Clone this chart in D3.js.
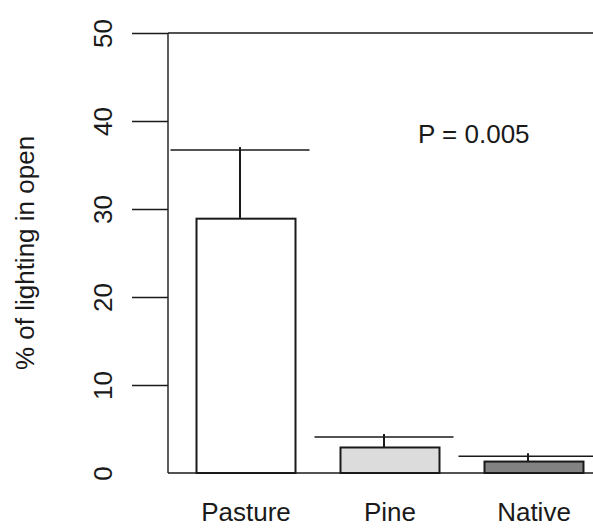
<!DOCTYPE html>
<html>
<head>
<meta charset="utf-8">
<script src="https://cdn.jsdelivr.net/npm/d3@7"></script>
<style>
  html, body { margin: 0; padding: 0; background: #fff; }
  svg { display: block; }
  text { font-family: "Liberation Sans", Arial, sans-serif; fill: #1a1a1a; }
</style>
</head>
<body>
<svg id="chart" width="593" height="528"></svg>
<script>
// Mean light levels by habitat, with the upper end of each error bar
const categories = ["Pasture", "Pine", "Native"];
const means = [28.9, 2.9, 1.3];
const upper = [36.7, 4.1, 1.9];
const fills = ["#ffffff", "#dcdcdc", "#828282"];
const yTicks = [0, 10, 20, 30, 40, 50];
const yTitle = "% of lighting in open";
const pLabel = "P = 0.005";

const W = 593, H = 528;
const svg = d3.select("#chart");
const ink = "#1a1a1a";

const x = d3.scaleBand()
  .domain(categories)
  .range([168, 612])
  .paddingInner(0.3125)
  .paddingOuter(0.198);

const y = d3.scaleLinear().domain([0, 50]).range([473, 33]);

const x0 = x.range()[0];

// left axis: long ticks, rotated labels
const axis = svg.append("g").attr("transform", `translate(${x0},0)`)
  .call(d3.axisLeft(y).tickValues(yTicks).tickSize(36).tickPadding(0).tickFormat(d3.format("d")));
axis.select(".domain").remove();
axis.selectAll(".tick line")
  .attr("stroke", ink).attr("stroke-width", 1.4)
  .attr("display", d => d === 0 ? "none" : null);
axis.selectAll(".tick text").remove();
axis.selectAll(".tick").append("text")
  .attr("transform", "translate(-56,0) rotate(-90)")
  .attr("text-anchor", "middle")
  .attr("font-size", 26)
  .text(d => d);

svg.append("line")
  .attr("x1", x0).attr("x2", x0)
  .attr("y1", y(50)).attr("y2", y(0))
  .attr("stroke", ink).attr("stroke-width", 1.4);

// top rule and baseline
svg.append("line")
  .attr("x1", x0).attr("x2", W)
  .attr("y1", y(50)).attr("y2", y(50))
  .attr("stroke", ink).attr("stroke-width", 1.4);
svg.append("line")
  .attr("x1", x0).attr("x2", W)
  .attr("y1", y(0)).attr("y2", y(0))
  .attr("stroke", ink).attr("stroke-width", 1.5);

// error bars (drawn slightly left of the bar centre)
const errShift = -6, capHalf = 69.5;
const err = svg.append("g");
categories.forEach((c, i) => {
  const cx = x(c) + x.bandwidth() / 2 + errShift;
  err.append("line")
    .attr("x1", cx).attr("x2", cx)
    .attr("y1", y(means[i])).attr("y2", y(upper[i]) - 3)
    .attr("stroke", ink).attr("stroke-width", 2);
  err.append("line")
    .attr("x1", cx - capHalf).attr("x2", Math.min(cx + capHalf, W))
    .attr("y1", y(upper[i])).attr("y2", y(upper[i]))
    .attr("stroke", ink).attr("stroke-width", 1.5);
});

// bars
svg.append("g").selectAll("rect")
  .data(categories)
  .join("rect")
  .attr("x", d => x(d))
  .attr("width", x.bandwidth())
  .attr("y", (d, i) => y(means[i]))
  .attr("height", (d, i) => y(0) - y(means[i]))
  .attr("fill", (d, i) => fills[i])
  .attr("stroke", ink)
  .attr("stroke-width", 2);

// category labels
svg.append("g").selectAll("text")
  .data(categories)
  .join("text")
  .attr("x", d => x(d) + x.bandwidth() / 2)
  .attr("y", 521)
  .attr("text-anchor", "middle")
  .attr("font-size", 26)
  .text(d => d);

// y title
svg.append("text")
  .attr("transform", `translate(34,${(y(0) + y(50)) / 2}) rotate(-90)`)
  .attr("text-anchor", "middle")
  .attr("font-size", 26)
  .text(yTitle);

// significance note
svg.append("text")
  .attr("x", 418).attr("y", 143)
  .attr("font-size", 26)
  .text(pLabel);
</script>
</body>
</html>
